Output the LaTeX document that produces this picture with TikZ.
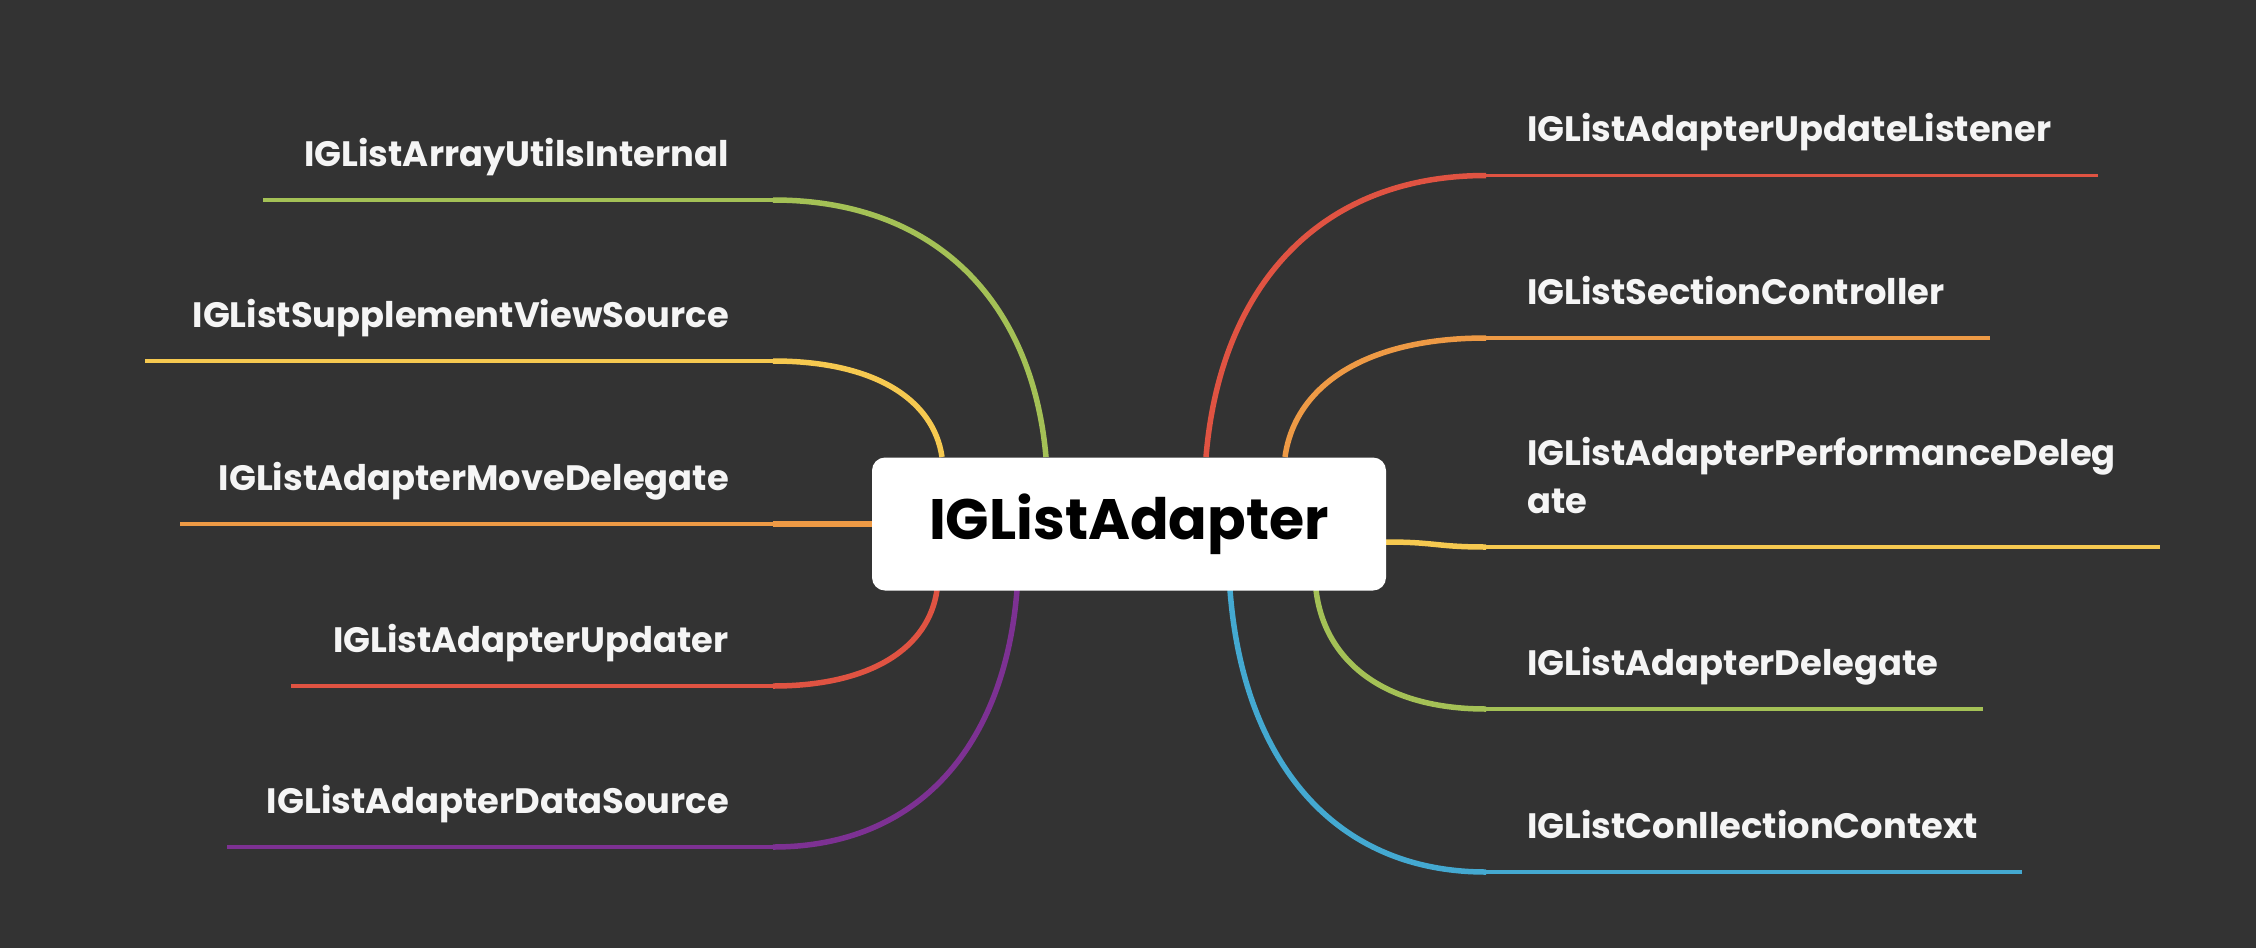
\documentclass[tikz,border=0pt]{standalone}
\usepackage{fontspec}
\setmainfont{Poppins}
\definecolor{bg}{HTML}{333333}
\definecolor{cgreen}{HTML}{A4C156}
\definecolor{cyellow}{HTML}{F6C950}
\definecolor{corange}{HTML}{EE9A45}
\definecolor{cred}{HTML}{E05342}
\definecolor{cpurple}{HTML}{7D3193}
\definecolor{cblue}{HTML}{44A9D1}
\definecolor{ctext}{HTML}{F5F5F5}
\tikzset{
  thin line/.style={line width=3.5pt},
  thick line/.style={line width=5.5pt},
  lab/.style={text=ctext, font=\bfseries\fontsize{35.3}{48}\selectfont, inner sep=0pt, align=left},
  labL/.style={lab, anchor=base east},
  labR/.style={lab, anchor=base west},
  centerbox/.style={fill=white, rounded corners=13pt, minimum width=514pt, minimum height=133pt, inner sep=0pt, font=\bfseries\fontsize{57}{70}\selectfont, text=black}
}
\begin{document}
\begin{tikzpicture}[x=1pt, y=-1pt]
\fill[bg] (0,0) rectangle (2256,948);
\useasboundingbox (0,0) rectangle (2256,948);

% attachment points on the box
\coordinate (sL1) at (1046,457);
\coordinate (sL2) at (942,457);
\coordinate (sL3) at (872,524);
\coordinate (sL4) at (937,590);
\coordinate (sL5) at (1017,590);
\coordinate (sR1) at (1206,457);
\coordinate (sR2) at (1285,457);
\coordinate (sR3) at (1386,542);
\coordinate (sR4) at (1316,590);
\coordinate (sR5) at (1230,590);
% bend ends
\coordinate (eL1) at (773,200);
\coordinate (eL2) at (773,361);
\coordinate (eL3) at (773,524);
\coordinate (eL4) at (773,686);
\coordinate (eL5) at (773,847);
\coordinate (eR1) at (1486,175.5);
\coordinate (eR2) at (1486,338);
\coordinate (eR3) at (1486,547);
\coordinate (eR4) at (1486,709);
\coordinate (eR5) at (1486,872);
% free ends
\coordinate (tL1) at (263,200);
\coordinate (tL2) at (145,361);
\coordinate (tL3) at (180,524);
\coordinate (tL4) at (291,686);
\coordinate (tL5) at (227,847);
\coordinate (tR1) at (2098,175.5);
\coordinate (tR2) at (1990,338);
\coordinate (tR3) at (2160,547);
\coordinate (tR4) at (1983,709);
\coordinate (tR5) at (2022,872);

% thin straight parts
\draw[thin line, cgreen] (eL1) -- (tL1);
\draw[thin line, cyellow] (eL2) -- (tL2);
\draw[thin line, corange] (eL3) -- (tL3);
\draw[thin line, cred] (eL4) -- (tL4);
\draw[thin line, cpurple] (eL5) -- (tL5);
\draw[thin line, cred] (eR1) -- (tR1);
\draw[thin line, corange] (eR2) -- (tR2);
\draw[thin line, cyellow] (eR3) -- (tR3);
\draw[thin line, cgreen] (eR4) -- (tR4);
\draw[thin line, cblue] (eR5) -- (tR5);

% thick curved parts
\draw[thick line, cgreen] (sL1) .. controls (1032.4,302.8) and (936.8,200) .. (eL1);
\draw[thick line, cyellow] (sL2) .. controls (933.6,399.4) and (874.4,361) .. (eL2);
\draw[thick line, corange] (sL3) -- (eL3);
\draw[thick line, cred] (sL4) .. controls (928.8,647.6) and (871.4,686) .. (eL4);
\draw[thick line, cpurple] (sL5) .. controls (1004.8,744.2) and (919.4,847) .. (eL5);
\draw[thick line, cred] (sR1) .. controls (1220,288.1) and (1318,175.5) .. (eR1);
\draw[thick line, corange] (sR2) .. controls (1295,385.6) and (1365.4,338) .. (eR2);
\draw[thick line, cyellow] (sR3) .. controls (1436,542) and (1436,547) .. (eR3);
\draw[thick line, cgreen] (sR4) .. controls (1324.5,661.4) and (1384,709) .. (eR4);
\draw[thick line, cblue] (sR5) .. controls (1242.8,759.2) and (1332.4,872) .. (eR5);

% central node
\node[centerbox] (center) at (1129,524) {IGListAdapter};

% labels
\node[labL] (l1) at (729,166) {IGListArrayUtilsInternal};
\node[labL] (l2) at (729,327) {IGListSupplementViewSource};
\node[labL] (l3) at (729,490) {IGListAdapterMoveDelegate};
\node[labL] (l4) at (729,652) {IGListAdapterUpdater};
\node[labL] (l5) at (729,813) {IGListAdapterDataSource};
\node[labR] (r1) at (1527,141.5) {IGListAdapterUpdateListener};
\node[labR] (r2) at (1527,304) {IGListSectionController};
\node[labR] (r3) at (1527,513) {IGListAdapterPerformanceDeleg\\ate};
\node[labR] (r4) at (1527,675) {IGListAdapterDelegate};
\node[labR] (r5) at (1527,838) {IGListConllectionContext};
\end{tikzpicture}
\end{document}
